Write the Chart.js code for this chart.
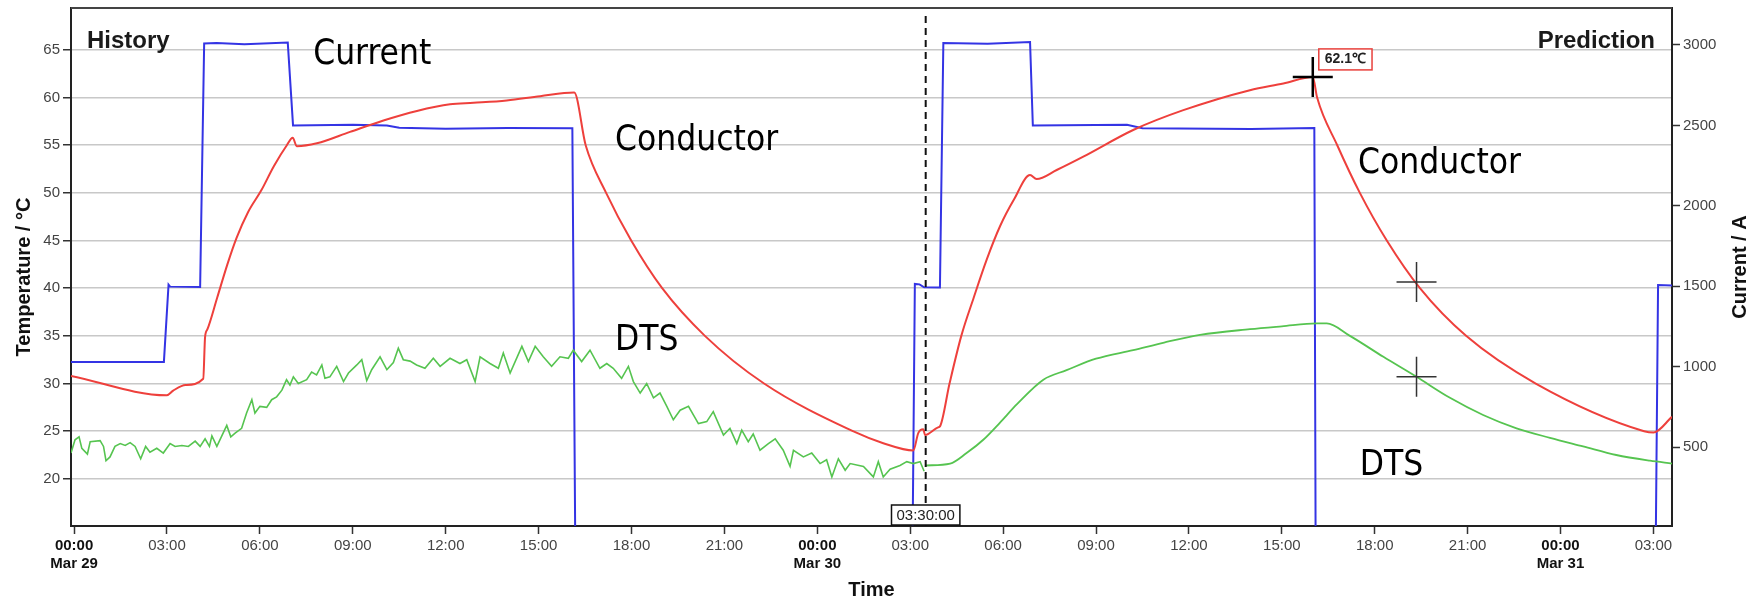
<!DOCTYPE html>
<html>
<head>
<meta charset="utf-8">
<script src="https://cdn.jsdelivr.net/npm/chart.js@4.4.1/dist/chart.umd.min.js"></script>
<style>
  html, body { margin: 0; padding: 0; background: #fff; }
  #wrap { width: 1756px; height: 602px; }
</style>
</head>
<body>
<div id="wrap"><canvas id="myChart" width="1756" height="602"></canvas></div>
<script>
// hours counted from 00:00 Mar 29
const xTickHours = [0, 3, 6, 9, 12, 15, 18, 21, 24, 27, 30, 33, 36, 39, 42, 45, 48, 51];
const dayNames = ['Mar 29', 'Mar 30', 'Mar 31'];
const tempTicks = [20, 25, 30, 35, 40, 45, 50, 55, 60, 65];
const currentTicks = [500, 1000, 1500, 2000, 2500, 3000];
const nowHour = 27.5;   // 03:30:00 Mar 30

// conductor temperature, °C
const condHours = [-0.1, 2.99, 3.2, 3.6, 4.17, 4.23, 4.3, 4.62, 4.95, 5.25, 5.62, 6.05, 6.45, 6.87, 7.06, 7.19, 7.84,
  8.91, 9.99, 11.07, 12.14, 12.9, 13.97, 15.05, 16.15, 16.52, 17.18, 17.99, 18.99, 20.37, 22.28, 25.15, 26.13,
  27.1, 27.26, 27.42, 27.48, 27.9, 27.96, 28.27, 28.65, 29.05, 29.47, 29.9, 30.35, 30.87, 31.08, 31.73, 32.59,
  34.2, 35.82, 37.97, 39.05, 40.0, 40.14, 40.79, 41.52, 42.39, 43.46, 44.95, 47.2, 50.7, 51.0, 51.6];
const condTemps = [30.8, 28.77, 29.26, 29.85, 30.5, 34.9, 35.65, 39.0, 42.5, 45.3, 48.0, 50.3, 52.8, 55.0, 55.78, 54.9, 55.2,
  56.4, 57.6, 58.6, 59.3, 59.45, 59.7, 60.15, 60.53, 55.0, 50.0, 45.0, 40.0, 35.0, 30.0, 25.0, 23.74,
  22.97, 24.8, 25.2, 24.6, 25.4, 25.5, 30.0, 35.0, 39.0, 43.0, 46.5, 49.3, 51.87, 51.45, 52.4, 53.8,
  56.6, 58.68, 60.78, 61.48, 62.17, 60.0, 55.0, 50.0, 45.0, 40.0, 35.0, 30.0, 25.0, 24.85, 26.5];

// DTS measured (history)
const dtsHistHours = [-0.1, 0.03, 0.16, 0.25, 0.43, 0.52, 0.84, 0.95, 1.03, 1.16, 1.32, 1.49, 1.65, 1.81, 1.97, 2.15,
  2.31, 2.45, 2.67, 2.88, 3.1, 3.26, 3.48, 3.69, 3.91, 4.07, 4.23, 4.37, 4.45, 4.61, 4.77, 4.93, 5.06, 5.2, 5.41,
  5.57, 5.74, 5.84, 6.0, 6.22, 6.38, 6.54, 6.71, 6.86, 6.97, 7.08, 7.24, 7.51, 7.67, 7.83, 8.0, 8.1, 8.26, 8.48,
  8.7, 8.86, 9.13, 9.29, 9.45, 9.61, 9.88, 10.1, 10.31, 10.47, 10.63, 10.85, 11.06, 11.33, 11.6, 11.82, 12.14,
  12.46, 12.68, 12.95, 13.11, 13.43, 13.7, 13.86, 14.08, 14.46, 14.67, 14.89, 15.15, 15.42, 15.69, 15.96, 16.12,
  16.39, 16.66, 16.98, 17.2, 17.41, 17.68, 17.9, 18.06, 18.28, 18.49, 18.71, 18.92, 19.14, 19.35, 19.57, 19.84,
  20.16, 20.43, 20.64, 20.97, 21.18, 21.4, 21.56, 21.77, 21.93, 22.15, 22.42, 22.64, 22.9, 23.12, 23.23, 23.55,
  23.82, 24.09, 24.3, 24.47, 24.68, 24.9, 25.06, 25.49, 25.81, 25.97, 26.13, 26.35, 26.67, 26.89, 27.1, 27.32, 27.45];
const dtsHistTemps = [22.7, 24.1, 24.4, 23.2, 22.6, 23.9, 24.0, 23.4, 21.9, 22.3, 23.4, 23.7, 23.5, 23.8, 23.4, 22.1,
  23.4, 22.8, 23.2, 22.7, 23.7, 23.4, 23.5, 23.4, 23.95, 23.4, 24.2, 23.4, 24.5, 23.4, 24.5, 25.6, 24.4, 24.8, 25.3,
  26.9, 28.3, 26.9, 27.6, 27.5, 28.3, 28.6, 29.3, 30.4, 29.85, 30.7, 30.0, 30.4, 31.2, 30.9, 31.95, 30.55, 30.7, 31.8,
  30.2, 31.1, 31.95, 32.5, 30.3, 31.45, 32.8, 31.45, 32.2, 33.7, 32.5, 32.35, 31.95, 31.6, 32.65, 31.8, 32.65,
  32.1, 32.5, 30.2, 32.8, 32.1, 31.6, 33.2, 31.1, 33.9, 32.3, 33.9, 32.8, 31.8, 32.8, 32.65, 33.5,
  32.3, 33.5, 31.6, 32.1, 31.6, 30.55, 31.8, 30.2, 29.0, 30.0, 28.5, 29.0, 27.6, 26.2, 27.2, 27.6,
  25.8, 26.0, 27.05, 24.6, 25.3, 23.7, 25.1, 23.9, 24.7, 23.0, 23.7, 24.2, 23.0, 21.3, 23.0, 22.3,
  22.7, 21.6, 22.0, 20.2, 22.1, 20.9, 21.6, 21.3, 20.2, 21.8, 20.2, 21.0, 21.4, 21.8, 21.6, 21.8, 20.8];

// DTS predicted
const dtsPredHours = [27.5, 28.29, 28.82, 29.36, 29.9, 30.44, 31.3, 32.05, 33.0, 34.2, 35.2, 36.36, 37.97, 39.0,
  40.13, 40.45, 41.2, 42.28, 43.35, 44.43, 45.5, 46.58, 47.66, 48.73, 49.8, 50.89, 51.6];
const dtsPredTemps = [21.4, 21.6, 22.7, 24.1, 25.9, 27.8, 30.4, 31.4, 32.6, 33.5, 34.3, 35.1, 35.7, 36.0,
  36.3, 36.3, 35.0, 32.8, 30.7, 28.5, 26.7, 25.3, 24.3, 23.4, 22.5, 21.9, 21.6];

// line current, A
const curHours = [-0.1, 2.9, 3.05, 3.1, 4.07, 4.2, 4.6, 5.5, 6.9, 7.07, 9.0, 10.1, 10.5, 12.0, 14.0, 16.09, 16.18,
  27.08, 27.15, 27.3, 27.45, 27.96, 28.07, 29.5, 30.87, 30.96, 34.0, 34.5, 38.0, 40.05, 40.09, 51.08, 51.15, 51.6];
const curAmps = [1030, 1030, 1510, 1498, 1495, 3010, 3012, 3005, 3015, 2500, 2505, 2500, 2486, 2480, 2484, 2482, 0,
  0, 1515, 1512, 1494, 1492, 3012, 3008, 3018, 2500, 2504, 2482, 2478, 2484, 0, 0, 1508, 1505];

// cross markers
const markerHours = [40.0, 43.35, 43.35];
const markerTemps = [62.17, 40.65, 30.7];
const peakLabel = '62.1℃';

const FONT = '"Liberation Sans", Arial, sans-serif';
const NARROW = '"Liberation Sans Narrow", "DejaVu Sans Condensed", sans-serif';

function pts(xs, ys) {
  return xs.map((v, i) => ({x: v, y: ys[i]}));
}

function hourLabel(v) {
  const hh = ((v % 24) + 24) % 24;
  const s = (hh < 10 ? '0' : '') + hh + ':00';
  if (hh === 0) return [s, dayNames[Math.round(v / 24)]];
  return s;
}

// free text placed in data units (hours, °C)
const textLabels = [
  {text: 'Current', h: 7.72, t: 63.57},
  {text: 'Conductor', h: 17.47, t: 54.49},
  {text: 'DTS', h: 17.47, t: 33.52},
  {text: 'Conductor', h: 41.46, t: 52.04},
  {text: 'DTS', h: 41.52, t: 20.42}
];

const overlay = {
  id: 'overlay',
  afterDatasetsDraw(chart) {
    const {ctx, chartArea: a, scales} = chart;
    const x = scales.x, y = scales.y;
    ctx.save();

    // top frame line
    ctx.strokeStyle = '#444';
    ctx.lineWidth = 2;
    ctx.beginPath();
    ctx.moveTo(a.left, a.top);
    ctx.lineTo(a.right, a.top);
    ctx.stroke();

    // now line
    const nx = x.getPixelForValue(nowHour);
    ctx.setLineDash([7, 5]);
    ctx.strokeStyle = '#111';
    ctx.lineWidth = 2;
    ctx.beginPath();
    ctx.moveTo(nx, a.top + 8);
    ctx.lineTo(nx, a.bottom);
    ctx.stroke();
    ctx.setLineDash([]);

    // now box
    ctx.font = '15px ' + FONT;
    const nowTxt = '03:30:00';
    const nw = ctx.measureText(nowTxt).width + 10;
    ctx.fillStyle = '#fff';
    ctx.fillRect(nx - nw / 2, a.bottom - 21, nw, 20);
    ctx.strokeStyle = '#111';
    ctx.lineWidth = 1.5;
    ctx.strokeRect(nx - nw / 2, a.bottom - 21, nw, 20);
    ctx.fillStyle = '#222';
    ctx.textAlign = 'center';
    ctx.textBaseline = 'middle';
    ctx.fillText(nowTxt, nx, a.bottom - 10.5);

    // peak label
    const px = x.getPixelForValue(markerHours[0]);
    const py = y.getPixelForValue(markerTemps[0]);
    ctx.font = 'bold 14px ' + FONT;
    const pw = ctx.measureText(peakLabel).width + 12;
    ctx.fillStyle = '#fff';
    ctx.fillRect(px + 6, py - 28, pw, 21);
    ctx.strokeStyle = '#e8403c';
    ctx.lineWidth = 1.5;
    ctx.strokeRect(px + 6, py - 28, pw, 21);
    ctx.fillStyle = '#222';
    ctx.textAlign = 'left';
    ctx.fillText(peakLabel, px + 12, py - 17.5);

    // History / Prediction
    ctx.font = 'bold 24px ' + FONT;
    ctx.textBaseline = 'alphabetic';
    ctx.fillStyle = '#1a1a1a';
    ctx.textAlign = 'left';
    ctx.fillText('History', a.left + 16, a.top + 40);
    ctx.textAlign = 'right';
    ctx.fillText('Prediction', a.right - 17, a.top + 40);

    // curve names
    ctx.font = '35px ' + NARROW;
    ctx.fillStyle = '#000';
    ctx.textAlign = 'left';
    textLabels.forEach(l => {
      ctx.fillText(l.text, x.getPixelForValue(l.h), y.getPixelForValue(l.t));
    });

    // axis titles (both read bottom to top)
    ctx.font = 'bold 20px ' + FONT;
    ctx.fillStyle = '#111';
    ctx.textAlign = 'center';
    ctx.textBaseline = 'middle';
    ctx.save();
    ctx.translate(24, 277);
    ctx.rotate(-Math.PI / 2);
    ctx.fillText('Temperature / °C', 0, 0);
    ctx.restore();
    ctx.save();
    ctx.translate(1740, 267);
    ctx.rotate(-Math.PI / 2);
    ctx.fillText('Current / A', 0, 0);
    ctx.restore();

    ctx.restore();
  }
};

function noEdgePad(s) {
  s.paddingTop = 0;
  s.paddingBottom = 0;
}

const config = {
  type: 'line',
  data: {
    datasets: [
      {
        type: 'scatter',
        data: pts(markerHours.slice(0, 1), markerTemps.slice(0, 1)),
        yAxisID: 'y',
        pointStyle: 'cross',
        pointRadius: 20,
        pointBorderWidth: 2.5,
        pointBorderColor: '#000',
        showLine: false
      },
      {
        type: 'scatter',
        data: pts(markerHours.slice(1), markerTemps.slice(1)),
        yAxisID: 'y',
        pointStyle: 'cross',
        pointRadius: 20,
        pointBorderWidth: 1.5,
        pointBorderColor: '#333',
        showLine: false
      },
      {
        label: 'Conductor',
        data: pts(condHours, condTemps),
        yAxisID: 'y',
        borderColor: 'rgb(238, 64, 60)',
        borderWidth: 2,
        pointRadius: 0,
        cubicInterpolationMode: 'monotone'
      },
      {
        label: 'DTS',
        data: pts(dtsHistHours, dtsHistTemps),
        yAxisID: 'y',
        borderColor: 'rgb(86, 196, 80)',
        borderWidth: 1.6,
        pointRadius: 0
      },
      {
        label: 'DTS prediction',
        data: pts(dtsPredHours, dtsPredTemps),
        yAxisID: 'y',
        borderColor: 'rgb(86, 196, 80)',
        borderWidth: 1.8,
        pointRadius: 0,
        cubicInterpolationMode: 'monotone'
      },
      {
        label: 'Current',
        data: pts(curHours, curAmps),
        yAxisID: 'y1',
        borderColor: 'rgb(52, 52, 228)',
        borderWidth: 2,
        pointRadius: 0,
        clip: 0
      }
    ]
  },
  options: {
    responsive: false,
    animation: false,
    devicePixelRatio: 1,
    layout: {autoPadding: false, padding: {top: 8, left: 0, right: 0, bottom: 0}},
    plugins: {legend: {display: false}, tooltip: {enabled: false}},
    scales: {
      x: {
        type: 'linear',
        position: 'bottom',
        min: -0.1,
        max: 51.6,
        afterBuildTicks: s => { s.ticks = xTickHours.map(v => ({value: v})); },
        afterFit: s => { s.height = 76; s.paddingLeft = 0; s.paddingRight = 0; },
        grid: {drawOnChartArea: false, tickLength: 8, tickColor: '#333', tickWidth: 1.5},
        border: {color: '#222', width: 2},
        ticks: {
          autoSkip: false,
          maxRotation: 0,
          padding: 3,
          callback: v => hourLabel(v),
          font: c => ({family: FONT, size: 15, weight: (c.tick && c.tick.value % 24 === 0) ? 'bold' : 'normal'}),
          color: c => (c.tick && c.tick.value % 24 === 0) ? '#111' : '#444'
        },
        title: {display: true, text: 'Time', color: '#111', font: {family: FONT, size: 20, weight: 'bold'}, padding: {top: 0, bottom: 0}}
      },
      y: {
        position: 'left',
        min: 15.05,
        max: 69.4,
        afterBuildTicks: s => { s.ticks = tempTicks.map(v => ({value: v})); },
        afterFit: s => { s.width = 71; noEdgePad(s); },
        grid: {color: '#c8c8c8', lineWidth: 1.5, tickLength: 8, tickColor: '#333', tickWidth: 1.5},
        border: {color: '#222', width: 2},
        ticks: {padding: 3, color: '#444', font: {family: FONT, size: 15}, callback: v => String(v)}
      },
      y1: {
        position: 'right',
        min: 10,
        max: 3230,
        afterBuildTicks: s => { s.ticks = currentTicks.map(v => ({value: v})); },
        afterFit: s => { s.width = 84; noEdgePad(s); },
        grid: {drawOnChartArea: false, tickLength: 8, tickColor: '#333', tickWidth: 1.5},
        border: {color: '#222', width: 2},
        ticks: {padding: 3, color: '#444', font: {family: FONT, size: 15}, callback: v => String(v)}
      }
    }
  },
  plugins: [overlay]
};

var myChart = new Chart(document.getElementById('myChart'), config);
</script>
</body>
</html>
